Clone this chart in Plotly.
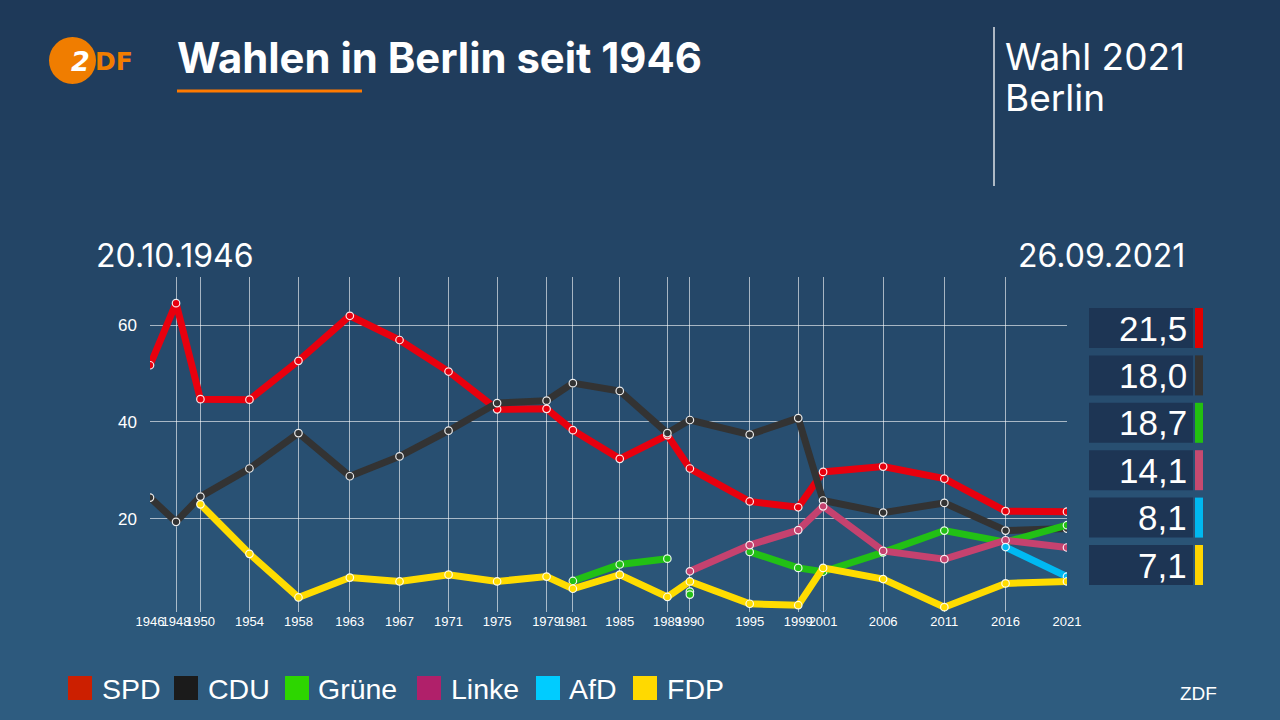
import plotly.graph_objects as go

# ---------------- data ----------------
dates = ["1946-10-20", "1948-12-05", "1950-12-03", "1954-12-05", "1958-12-07",
         "1963-02-17", "1967-03-12", "1971-03-14", "1975-03-02", "1979-03-18",
         "1981-05-10", "1985-03-10", "1989-01-29", "1990-12-02", "1995-10-22",
         "1999-10-10", "2001-10-21", "2006-09-17", "2011-09-18", "2016-09-18",
         "2021-09-26"]
year_labels = ["1946", "1948", "1950", "1954", "1958", "1963", "1967", "1971", "1975",
               "1979", "1981", "1985", "1989", "1990", "1995", "1999", "2001", "2006",
               "2011", "2016", "2021"]

spd = [51.7, 64.5, 44.7, 44.6, 52.6, 61.9, 56.9, 50.4, 42.6, 42.7, 38.3, 32.4, 37.3,
       30.4, 23.6, 22.4, 29.7, 30.8, 28.3, 21.6, 21.5]
cdu = [24.4, 19.4, 24.6, 30.4, 37.7, 28.8, 32.9, 38.2, 43.9, 44.4, 48.0, 46.4, 37.7,
       40.4, 37.4, 40.8, 23.8, 21.3, 23.3, 17.6, 18.0]
gruene = [None, None, None, None, None, None, None, None, None, None, 7.2, 10.6, 11.8,
          None, 13.2, 9.9, 9.1, 13.1, 17.6, 15.2, 18.7]
gruene_1990 = [5.0, 4.4]
linke = [None, None, None, None, None, None, None, None, None, None, None, None, None,
         9.2, 14.6, 17.7, 22.6, 13.4, 11.7, 15.6, 14.1]
afd = [None] * 19 + [14.2, 8.1]
fdp = [None, None, 23.0, 12.8, 3.8, 7.9, 7.1, 8.5, 7.1, 8.1, 5.6, 8.5, 3.9,
       7.1, 2.5, 2.2, 9.9, 7.6, 1.8, 6.7, 7.1]

parties = ["SPD", "CDU", "Grüne", "Linke", "AfD", "FDP"]
series = [spd, cdu, gruene, linke, afd, fdp]
line_colors = ["#e8000e", "#333333", "#22c015", "#c5426f", "#00b9f2", "#ffdc00"]
legend_colors = ["#cc1f00", "#1b1b1b", "#2dd600", "#b0206a", "#00ccff", "#ffd900"]
box_colors = ["#e00000", "#333333", "#22c010", "#c54a70", "#00b8f0", "#ffd500"]

title = "Wahlen in Berlin seit 1946"
start_label = "20.10.1946"
end_label = "26.09.2021"

W, H = 1280, 720
ML, MR, MT, MB = 150, 213, 277, 108
PW = W - ML - MR
PH = H - MT - MB


def px(x):
    # figure pixel -> paper (plot-area) coordinate
    return (x - ML) / PW


def py(y):
    return (H - MB - y) / PH


fig = go.Figure()

for name, vals, col in zip(parties, series, line_colors):
    fig.add_trace(go.Scatter(
        x=dates, y=vals, name=name, mode="lines+markers",
        line=dict(color=col, width=7),
        marker=dict(size=7.5, color=col, line=dict(color="rgba(255,255,255,0.9)", width=1.2)),
        connectgaps=False, showlegend=False, hoverinfo="x+y"))
    if name == "Grüne":
        fig.add_trace(go.Scatter(
            x=[dates[13]] * len(gruene_1990), y=gruene_1990, mode="markers",
            marker=dict(size=7.5, color=col, line=dict(color="rgba(255,255,255,0.9)", width=1.2)),
            showlegend=False, hoverinfo="x+y"))

shapes = []
# background gradient
top = (30, 57, 88)
bot = (46, 92, 128)
n = 72
for i in range(n):
    t = i / (n - 1)
    c = tuple(round(top[k] + (bot[k] - top[k]) * t) for k in range(3))
    shapes.append(dict(type="rect", xref="paper", yref="paper", layer="below",
                       x0=px(0), x1=px(W), y0=py((i + 1) * H / n + 1), y1=py(i * H / n),
                       fillcolor="rgb(%d,%d,%d)" % c, line=dict(width=0)))

# logo circle
shapes.append(dict(type="circle", xref="paper", yref="paper", x0=px(49), x1=px(96),
                   y0=py(84), y1=py(37), fillcolor="#f07d00", line=dict(width=0)))
# title underline
shapes.append(dict(type="line", xref="paper", yref="paper", x0=px(177), x1=px(362),
                   y0=py(91), y1=py(91), line=dict(color="#ff7a00", width=3)))
# right divider
shapes.append(dict(type="line", xref="paper", yref="paper", x0=px(994), x1=px(994),
                   y0=py(27), y1=py(186), line=dict(color="rgba(255,255,255,0.85)", width=1.5)))

annotations = []
annotations.append(dict(xref="paper", yref="paper", x=px(80), y=py(61), xanchor="center",
                        yanchor="middle", showarrow=False,
                        text="<b><i>2</i></b>", font=dict(color="white", size=27, family="DejaVu Sans")))
annotations.append(dict(xref="paper", yref="paper", x=px(93), y=py(61), xanchor="left",
                        yanchor="middle", showarrow=False,
                        text="<b>DF</b>", font=dict(color="#f07d00", size=25, family="DejaVu Sans")))
annotations.append(dict(xref="paper", yref="paper", x=px(175), y=py(58), xanchor="left",
                        yanchor="middle", showarrow=False, text="<b>" + title + "</b>",
                        font=dict(color="white", size=41.8, family="Inter")))
annotations.append(dict(xref="paper", yref="paper", x=px(1003), y=py(56), xanchor="left",
                        yanchor="middle", showarrow=False, text="Wahl 2021",
                        font=dict(color="white", size=37, family="Inter")))
annotations.append(dict(xref="paper", yref="paper", x=px(1003), y=py(97), xanchor="left",
                        yanchor="middle", showarrow=False, text="Berlin",
                        font=dict(color="white", size=37, family="Inter")))
annotations.append(dict(xref="paper", yref="paper", x=px(94), y=py(255), xanchor="left",
                        yanchor="middle", showarrow=False, text=start_label,
                        font=dict(color="white", size=32, family="Inter")))
annotations.append(dict(xref="paper", yref="paper", x=px(1187), y=py(255), xanchor="right",
                        yanchor="middle", showarrow=False, text=end_label,
                        font=dict(color="white", size=32, family="Inter")))

# value boxes
for i, (vals, col) in enumerate(zip(series, box_colors)):
    y0 = 308 + i * 47.4
    y1 = y0 + 40
    shapes.append(dict(type="rect", xref="paper", yref="paper", x0=px(1089), x1=px(1193),
                       y0=py(y1), y1=py(y0), fillcolor="#1d3554", line=dict(width=0)))
    shapes.append(dict(type="rect", xref="paper", yref="paper", x0=px(1195), x1=px(1203),
                       y0=py(y1), y1=py(y0), fillcolor=col, line=dict(width=0)))
    last = vals[-1]
    annotations.append(dict(xref="paper", yref="paper", x=px(1189), y=py((y0 + y1) / 2),
                            xanchor="right", yanchor="middle", showarrow=False,
                            text=("%.1f" % last).replace(".", ","),
                            font=dict(color="white", size=35, family="Liberation Sans")))

# legend
leg_sq = [68, 174, 285, 417, 536, 633]
leg_tx = [100, 206, 316, 449, 567, 665]
for name, col, sx, tx in zip(parties, legend_colors, leg_sq, leg_tx):
    shapes.append(dict(type="rect", xref="paper", yref="paper", x0=px(sx), x1=px(sx + 24),
                       y0=py(700), y1=py(676), fillcolor=col, line=dict(width=0)))
    annotations.append(dict(xref="paper", yref="paper", x=px(tx), y=py(689), xanchor="left",
                            yanchor="middle", showarrow=False, text=name,
                            font=dict(color="white", size=28.5, family="Liberation Sans")))

annotations.append(dict(xref="paper", yref="paper", x=px(1198), y=py(693), xanchor="center",
                        yanchor="middle", showarrow=False, text="ZDF",
                        font=dict(color="white", size=19, family="Liberation Sans")))

fig.update_layout(
    width=W, height=H,
    margin=dict(l=ML, r=MR, t=MT, b=MB, pad=0),
    paper_bgcolor="#26496c", plot_bgcolor="rgba(0,0,0,0)",
    shapes=shapes, annotations=annotations, showlegend=False,
    xaxis=dict(type="date", range=[dates[0], dates[-1]], tickvals=dates, ticktext=year_labels,
               showgrid=True, gridcolor="rgba(255,255,255,0.6)", gridwidth=1,
               zeroline=False, showline=False, ticks="",
               tickfont=dict(color="white", size=13, family="Liberation Sans"),
               tickangle=0),
    yaxis=dict(range=[0.8, 69.9], tickvals=[20, 40, 60], showgrid=True,
               gridcolor="rgba(255,255,255,0.6)", gridwidth=1, zeroline=False, showline=False,
               ticks="", ticklabelstandoff=12,
               tickfont=dict(color="white", size=17, family="Liberation Sans")),
)

fig.write_html("out.html")
